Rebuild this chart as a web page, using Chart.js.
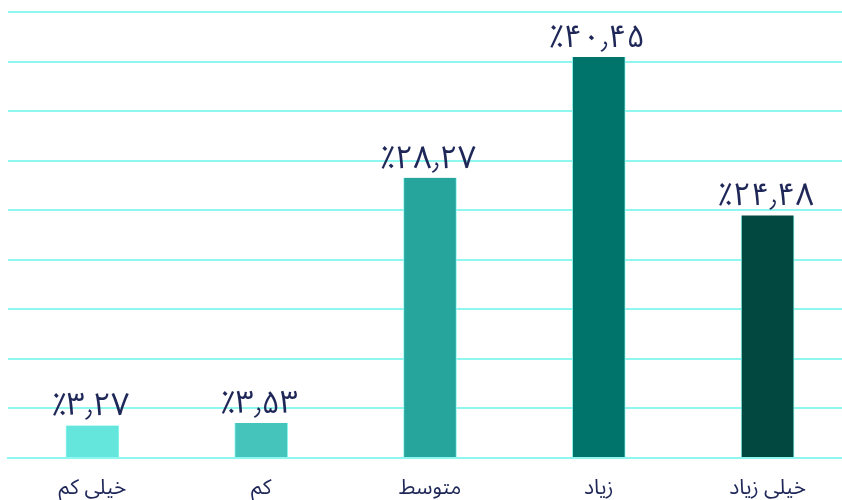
<!DOCTYPE html>
<html lang="fa">
<head>
<meta charset="utf-8">
<title>نمودار</title>
<script src="https://cdn.jsdelivr.net/npm/chart.js@4.4.1/dist/chart.umd.min.js"></script>
<style>
  html, body { margin: 0; padding: 0; background: #ffffff; overflow: hidden; }
  #wrap { width: 842px; height: 500px; overflow: hidden; }
  canvas { display: block; }
</style>
</head>
<body>
<div id="wrap"><canvas id="chart" width="852" height="500"></canvas></div>
<script>
// Response levels and share of answers (percent)
const categories = ['خیلی کم', 'کم', 'متوسط', 'زیاد', 'خیلی زیاد'];
const shares = [3.27, 3.53, 28.27, 40.45, 24.48];
const barColors = ['#64e6dc', '#45c4bb', '#25a59b', '#00746a', '#024840'];
const yTicks = [0, 5, 10, 15, 20, 25, 30, 35, 40, 45];

const persianDigits = '۰۱۲۳۴۵۶۷۸۹';
function toPersianPercent(v) {
  const s = v.toFixed(2).replace(/\d/g, d => persianDigits[+d]).replace('.', '٫');
  return '٪' + s;
}

const FONT = '"Noto Sans Arabic", "Vazirmatn", "DejaVu Sans", sans-serif';

// Writes the percentage above each bar
const valueLabels = {
  id: 'valueLabels',
  afterDatasetsDraw(chart) {
    const ctx = chart.ctx;
    const meta = chart.getDatasetMeta(0);
    ctx.save();
    ctx.fillStyle = '#1e2757';
    ctx.font = '32px ' + FONT;
    ctx.textAlign = 'center';
    ctx.textBaseline = 'bottom';
    meta.data.forEach((bar, i) => {
      ctx.fillText(toPersianPercent(shares[i]), bar.x - 2, bar.y + 1);
    });
    ctx.restore();
  }
};

new Chart(document.getElementById('chart'), {
  type: 'bar',
  data: {
    labels: categories,
    datasets: [{
      data: shares,
      backgroundColor: barColors,
      borderColor: '#8ef7ef',
      borderWidth: { left: 1, right: 1, top: 0, bottom: 0 },
      borderSkipped: false,
      barThickness: 53
    }]
  },
  options: {
    responsive: false,
    animation: false,
    layout: { padding: { left: 8, right: 0, top: 12, bottom: 0 } },
    plugins: { legend: { display: false }, tooltip: { enabled: false } },
    scales: {
      x: {
        afterFit(axis) { axis.height = 42; },
        grid: { display: false, drawTicks: false },
        border: { display: true, color: '#8ef7ef', width: 2 },
        ticks: { color: '#1e2757', font: { family: FONT, size: 21 }, padding: 20 }
      },
      y: {
        min: 0,
        max: 45,
        afterBuildTicks(axis) { axis.ticks = yTicks.map(v => ({ value: v })); },
        grid: { color: '#8ef7ef', lineWidth: 2, drawTicks: false },
        border: { display: false },
        ticks: { display: false }
      }
    }
  },
  plugins: [valueLabels]
});
</script>
</body>
</html>
